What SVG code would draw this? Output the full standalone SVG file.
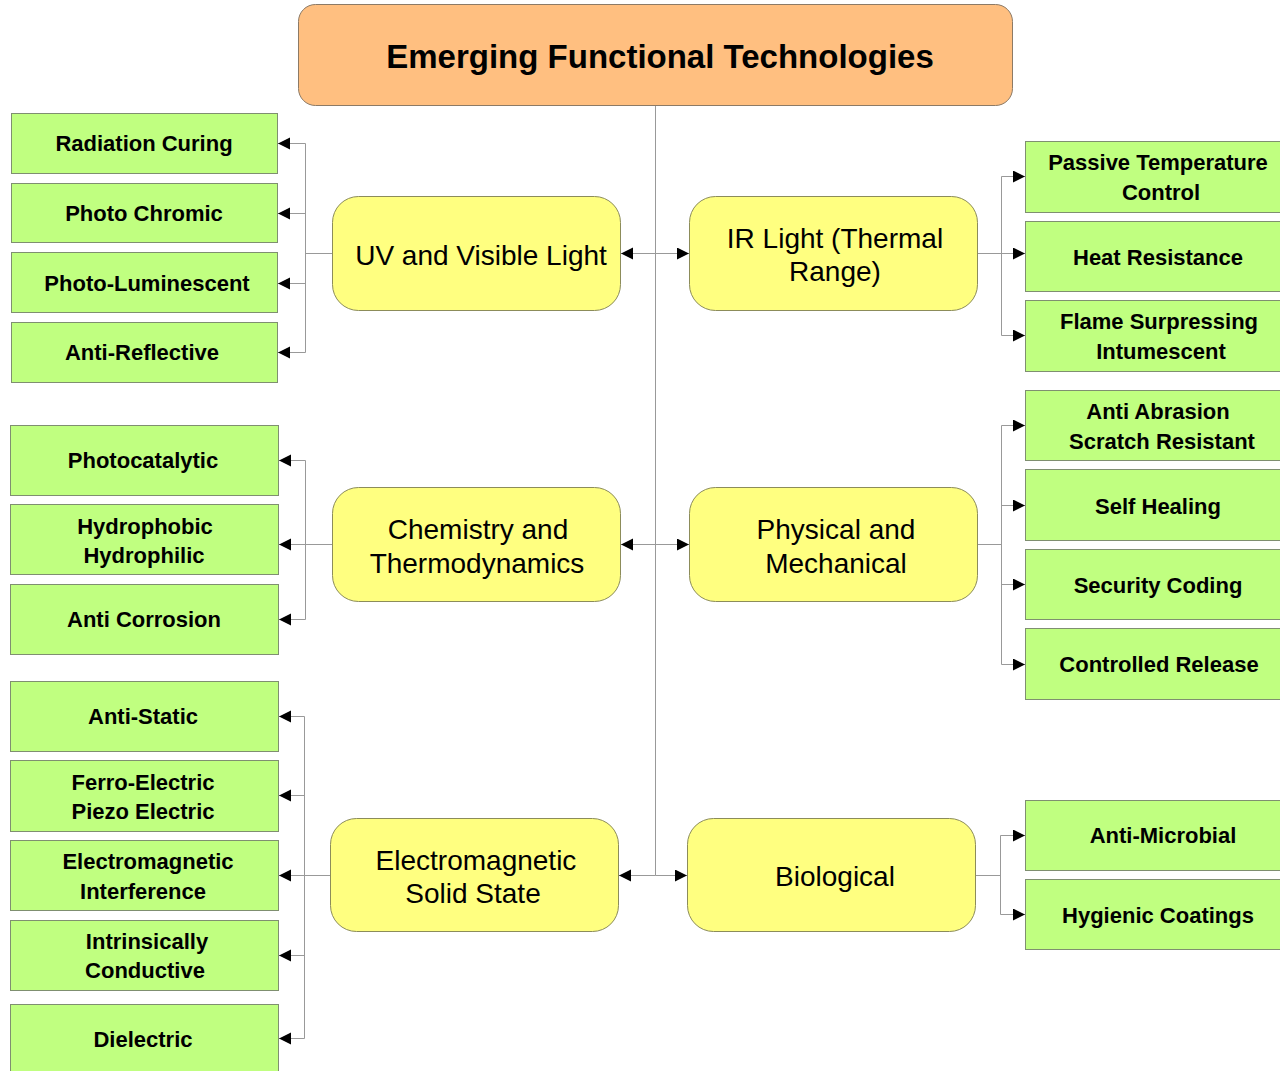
<svg xmlns="http://www.w3.org/2000/svg" width="1280" height="1071" viewBox="0 0 1280 1071">
<style>
.root{fill:#FFBF80;stroke:#8C7A66;stroke-width:1}
.cat{fill:#FFFF80;stroke:#8C8C5A;stroke-width:1}
.leaf{fill:#C0FF80;stroke:#7F8F70;stroke-width:1}
.tt{font-family:"Liberation Sans",Arial,sans-serif;font-weight:bold;font-size:33px;fill:#000;text-anchor:middle}
.ct{font-family:"Liberation Sans",Arial,sans-serif;font-size:28px;fill:#000;text-anchor:middle}
.lt{font-family:"Liberation Sans",Arial,sans-serif;font-weight:bold;font-size:22px;fill:#000;text-anchor:middle}
.c{fill:none;stroke:#999;stroke-width:1}
</style>
<defs>
<marker id="ah" markerUnits="userSpaceOnUse" markerWidth="13" markerHeight="13" refX="12" refY="6" orient="auto">
<path d="M0,0 L12,6 L0,12 z" fill="#000"/>
</marker>
</defs>
<rect width="1280" height="1071" fill="#fff"/>
<g id="connectors">
<path class="c" d="M655.5,105 V875.5"/>
<path class="c" d="M655.5,253.5 H621" marker-end="url(#ah)"/>
<path class="c" d="M655.5,253.5 H689" marker-end="url(#ah)"/>
<path class="c" d="M655.5,544.5 H621" marker-end="url(#ah)"/>
<path class="c" d="M655.5,544.5 H689" marker-end="url(#ah)"/>
<path class="c" d="M655.5,875.5 H619" marker-end="url(#ah)"/>
<path class="c" d="M655.5,875.5 H687" marker-end="url(#ah)"/>
<path class="c" d="M332,253.5 H305.5 M305.5,143.5 V352.5"/>
<path class="c" d="M305.5,143.5 H278" marker-end="url(#ah)"/>
<path class="c" d="M305.5,213.5 H278" marker-end="url(#ah)"/>
<path class="c" d="M305.5,283.5 H278" marker-end="url(#ah)"/>
<path class="c" d="M305.5,352.5 H278" marker-end="url(#ah)"/>
<path class="c" d="M332,544.5 H305.5 M305.5,460.5 V619.5"/>
<path class="c" d="M305.5,460.5 H279" marker-end="url(#ah)"/>
<path class="c" d="M305.5,544.5 H279" marker-end="url(#ah)"/>
<path class="c" d="M305.5,619.5 H279" marker-end="url(#ah)"/>
<path class="c" d="M330,875.5 H304.5 M304.5,716.5 V1038.5"/>
<path class="c" d="M304.5,716.5 H279" marker-end="url(#ah)"/>
<path class="c" d="M304.5,795.5 H279" marker-end="url(#ah)"/>
<path class="c" d="M304.5,875.5 H279" marker-end="url(#ah)"/>
<path class="c" d="M304.5,955.5 H279" marker-end="url(#ah)"/>
<path class="c" d="M304.5,1038.5 H279" marker-end="url(#ah)"/>
<path class="c" d="M977,253.5 H1001.5 M1001.5,176.5 V335.5"/>
<path class="c" d="M1001.5,176.5 H1025" marker-end="url(#ah)"/>
<path class="c" d="M1001.5,253.5 H1025" marker-end="url(#ah)"/>
<path class="c" d="M1001.5,335.5 H1025" marker-end="url(#ah)"/>
<path class="c" d="M977,544.5 H1001.5 M1001.5,425.5 V664.5"/>
<path class="c" d="M1001.5,425.5 H1025" marker-end="url(#ah)"/>
<path class="c" d="M1001.5,505.5 H1025" marker-end="url(#ah)"/>
<path class="c" d="M1001.5,584.5 H1025" marker-end="url(#ah)"/>
<path class="c" d="M1001.5,664.5 H1025" marker-end="url(#ah)"/>
<path class="c" d="M975,875.5 H1000.5 M1000.5,835.5 V914.5"/>
<path class="c" d="M1000.5,835.5 H1025" marker-end="url(#ah)"/>
<path class="c" d="M1000.5,914.5 H1025" marker-end="url(#ah)"/>
</g>
<g id="root"><rect class="root" x="298.5" y="4.5" width="714" height="101" rx="17"/><text class="tt" x="660" y="68">Emerging Functional Technologies</text></g>
<g id="uv"><rect class="cat" x="332.5" y="196.5" width="288" height="114" rx="26"/><text class="ct" x="481" y="265">UV and Visible Light</text></g>
<g id="ir"><rect class="cat" x="689.5" y="196.5" width="288" height="114" rx="26"/><text class="ct" x="835" y="248">IR Light (Thermal</text><text class="ct" x="835" y="281">Range)</text></g>
<g id="chem"><rect class="cat" x="332.5" y="487.5" width="288" height="114" rx="26"/><text class="ct" x="478" y="539">Chemistry and</text><text class="ct" x="477" y="573">Thermodynamics</text></g>
<g id="phys"><rect class="cat" x="689.5" y="487.5" width="288" height="114" rx="26"/><text class="ct" x="836" y="539">Physical and</text><text class="ct" x="836" y="573">Mechanical</text></g>
<g id="em"><rect class="cat" x="330.5" y="818.5" width="288" height="113" rx="26"/><text class="ct" x="476" y="870">Electromagnetic</text><text class="ct" x="473" y="903">Solid State</text></g>
<g id="bio"><rect class="cat" x="687.5" y="818.5" width="288" height="113" rx="26"/><text class="ct" x="835" y="886">Biological</text></g>
<g id="radiation"><rect class="leaf" x="11.5" y="113.5" width="266" height="60"/><text class="lt" x="144" y="151">Radiation Curing</text></g>
<g id="photochromic"><rect class="leaf" x="11.5" y="183.5" width="266" height="59"/><text class="lt" x="144" y="221">Photo Chromic</text></g>
<g id="photolum"><rect class="leaf" x="11.5" y="252.5" width="266" height="60"/><text class="lt" x="147" y="291">Photo-Luminescent</text></g>
<g id="antireflective"><rect class="leaf" x="11.5" y="322.5" width="266" height="60"/><text class="lt" x="142" y="360">Anti-Reflective</text></g>
<g id="photocatalytic"><rect class="leaf" x="10.5" y="425.5" width="268" height="70"/><text class="lt" x="143" y="468">Photocatalytic</text></g>
<g id="hydro"><rect class="leaf" x="10.5" y="504.5" width="268" height="70"/><text class="lt" x="145" y="534">Hydrophobic</text><text class="lt" x="144" y="563">Hydrophilic</text></g>
<g id="anticorrosion"><rect class="leaf" x="10.5" y="584.5" width="268" height="70"/><text class="lt" x="144" y="627">Anti Corrosion</text></g>
<g id="antistatic"><rect class="leaf" x="10.5" y="681.5" width="268" height="70"/><text class="lt" x="143" y="724">Anti-Static</text></g>
<g id="ferro"><rect class="leaf" x="10.5" y="760.5" width="268" height="71"/><text class="lt" x="143" y="790">Ferro-Electric</text><text class="lt" x="143" y="819">Piezo Electric</text></g>
<g id="emi"><rect class="leaf" x="10.5" y="840.5" width="268" height="70"/><text class="lt" x="148" y="869">Electromagnetic</text><text class="lt" x="143" y="899">Interference</text></g>
<g id="intrinsic"><rect class="leaf" x="10.5" y="920.5" width="268" height="70"/><text class="lt" x="147" y="949">Intrinsically</text><text class="lt" x="145" y="978">Conductive</text></g>
<g id="dielectric"><rect class="leaf" x="10.5" y="1004.5" width="268" height="80"/><text class="lt" x="143" y="1047">Dielectric</text></g>
<g id="passive"><rect class="leaf" x="1025.5" y="141.5" width="270" height="71"/><text class="lt" x="1158" y="170">Passive Temperature</text><text class="lt" x="1161" y="200">Control</text></g>
<g id="heat"><rect class="leaf" x="1025.5" y="221.5" width="270" height="70"/><text class="lt" x="1158" y="265">Heat Resistance</text></g>
<g id="flame"><rect class="leaf" x="1025.5" y="300.5" width="270" height="71"/><text class="lt" x="1159" y="329">Flame Surpressing</text><text class="lt" x="1161" y="359">Intumescent</text></g>
<g id="abrasion"><rect class="leaf" x="1025.5" y="390.5" width="270" height="70"/><text class="lt" x="1158" y="419">Anti Abrasion</text><text class="lt" x="1162" y="449">Scratch Resistant</text></g>
<g id="selfheal"><rect class="leaf" x="1025.5" y="469.5" width="270" height="71"/><text class="lt" x="1158" y="514">Self Healing</text></g>
<g id="security"><rect class="leaf" x="1025.5" y="549.5" width="270" height="70"/><text class="lt" x="1158" y="593">Security Coding</text></g>
<g id="controlled"><rect class="leaf" x="1025.5" y="628.5" width="270" height="71"/><text class="lt" x="1159" y="672">Controlled Release</text></g>
<g id="antimicrobial"><rect class="leaf" x="1025.5" y="800.5" width="270" height="70"/><text class="lt" x="1163" y="843">Anti-Microbial</text></g>
<g id="hygienic"><rect class="leaf" x="1025.5" y="879.5" width="270" height="70"/><text class="lt" x="1158" y="923">Hygienic Coatings</text></g>
</svg>
